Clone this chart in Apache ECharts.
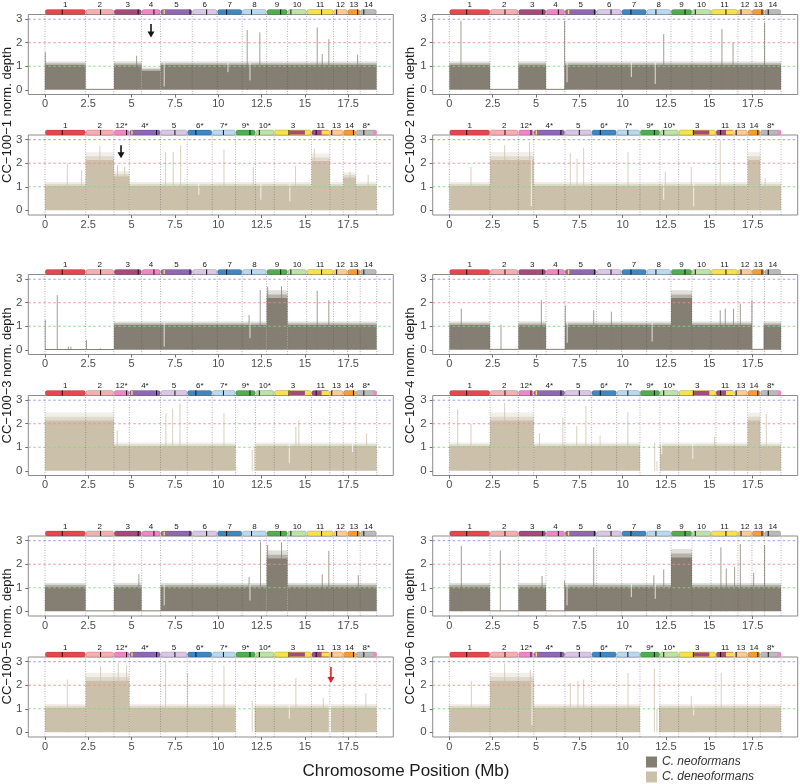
<!DOCTYPE html>
<html>
<head>
<meta charset="utf-8">
<script src="https://cdn.jsdelivr.net/npm/echarts@6/dist/echarts.min.js"></script>
<style>
  html, body { margin: 0; background: #fff; }
  #c { width: 800px; height: 784px; }
</style>
</head>
<body>
<div id="c"></div>
<script>
/* Normalized read depth along the genome, C. neoformans (H99) and
   C. deneoformans (JEC21) subgenomes, six CC-100 isolates. */

/* ---------- chromosome maps (Mb) ---------- */
const neoNames = ["1","2","3","4","5","6","7","8","9","10","11","12","13","14"];
const neoEnds = [2.35, 3.98, 5.58, 6.67, 8.5, 9.94, 11.38, 12.79, 14.0, 15.1, 16.65, 17.46, 18.19, 19.14];
const neoCen = [1.0, 3.21, 5.38, 6.29, 8.37, 9.33, 10.48, 11.92, 13.6, 14.19, 15.96, 16.83, 18.04, 18.4];
const neoCols = ["#e8464d","#f6afb1","#a54a7b","#f285c6","#8f67b5","#dac7e5","#3f87c2","#b8d9ef","#50ae4c","#bee3a6","#f7e24b","#fdcb93","#f79b36","#bababa"];
const neoBlocks = [[6.84, 6.92, "#f7e24b"]];

const denNames = ["1","2","12*","4*","5","6*","7*","9*","10*","3","11","13","14","8*"];
const denEnds = [2.35, 3.98, 4.87, 6.67, 8.21, 9.65, 11.0, 12.15, 13.23, 15.38, 16.44, 17.21, 17.94, 19.14];
const denCen = [1.0, 3.21, 4.71, 6.44, 7.5, 8.71, 10.3, 11.83, 12.37, 14.08, 15.65, 16.55, 17.8, 18.4];
const denCols = ["#e8464d","#f6afb1","#f285c6","#8f67b5","#dac7e5","#3f87c2","#b8d9ef","#50ae4c","#bee3a6","#f7e24b","#a54a7b","#fdcb93","#f79b36","#bababa"];
const denBlocks = [[4.98, 5.06, "#f7e24b"], [14.12, 15.0, "#a54a7b"], [15.96, 16.44, "#f7e24b"], [18.95, 19.14, "#f285c6"]];

/* ---------- depth: [start, end, level], spikes [x, h], dips [x, low, high] ---------- */
const cc1NeoSeg = [[0,2.35,1.05],[2.35,3.98,0.04],[3.98,5.58,1.05],[5.58,6.67,0.82],[6.67,19.14,1.05]];
const cc1NeoSpk = [[0.02,1.6],[5.29,1.45],[11.67,2.54],[12.4,2.44],[15.71,2.65],[16.0,1.52],[16.38,2.15],[18.04,1.5]];
const cc1NeoDip = [[6.88,0.14,1.0],[10.56,0.75,1.0],[11.83,0.4,1.0]];

const cc1DenSeg = [[0,2.35,1.05],[2.35,3.98,2.15],[3.98,4.87,1.45],[4.87,15.38,1.05],[15.38,16.44,2.1],[16.44,17.21,1.05],[17.21,17.94,1.4],[17.94,19.14,1.05]];
const cc1DenSpk = [[1.29,1.99],[2.12,1.71],[3.17,2.72],[4.19,1.92],[4.6,1.85],[6.96,2.48],[7.4,2.48],[7.83,2.76],[10.33,2.58],[12.02,1.85],[14.46,1.88],[15.54,2.62],[17.6,1.64],[18.65,1.5]];
const cc1DenDip = [[8.88,0.66,1.0],[12.46,0.45,1.0],[14.13,0.38,1.0]];

const cc2NeoSeg = [[0,2.35,1.05],[2.35,3.98,0.04],[3.98,5.58,1.05],[5.58,6.67,0.04],[6.67,19.14,1.05]];
const cc2NeoSpk = [[0.67,2.93],[6.65,2.93],[12.37,2.37],[15.73,2.58],[16.37,2.01],[18.19,2.86]];
const cc2NeoDip = [[6.79,0.32,1.0],[10.5,0.54,1.0],[11.88,0.25,1.0]];

const cc2DenSeg = [[0,2.35,1.05],[2.35,4.87,2.15],[4.87,17.21,1.05],[17.21,17.94,2.15],[17.94,19.14,1.05]];
const cc2DenSpk = [[1.25,1.85],[3.19,2.76],[4.63,2.9],[6.98,2.42],[7.37,2.2],[7.75,2.66],[10.31,2.48],[12.46,1.64],[13.96,1.85],[15.63,2.97],[18.23,1.36]];
const cc2DenDip = [[4.73,0.17,2.0],[12.37,0.45,1.0],[14.1,0.17,1.0]];

const cc3NeoSeg = [[0,3.98,0.03],[3.98,12.79,1.05],[12.79,14.0,2.2],[14.0,19.14,1.05]];
const cc3NeoSpk = [[0.02,1.27],[0.71,2.32],[1.35,0.14],[1.5,0.14],[2.4,0.42],[3.2,0.06],[11.78,1.48],[12.42,2.54],[12.85,2.68],[13.65,2.7],[15.71,2.51],[16.38,2.11]];
const cc3NeoDip = [[6.88,0.14,1.0],[11.83,0.49,1.0]];

const cc3DenSeg = [[0,3.98,2.15],[3.98,11.0,1.05],[11.0,12.15,0],[12.15,19.14,1.05]];
const cc3DenSpk = [[4.17,1.73],[6.98,2.44],[7.37,2.65],[7.79,2.86],[10.33,2.46],[11.96,0.89],[12.08,0.96],[14.48,1.87],[14.65,2.15],[18.56,1.59]];
const cc3DenDip = [[14.1,0.32,1.0],[17.75,0.8,1.0]];

const cc4NeoSeg = [[0,2.35,1.05],[2.35,3.98,0.04],[3.98,5.58,1.05],[5.58,6.67,0.04],[6.67,12.79,1.05],[12.79,14.0,2.2],[14.0,17.46,1.05],[17.46,18.13,0.04],[18.13,19.14,1.05]];
const cc4NeoSpk = [[0.69,1.75],[2.98,1.07],[5.31,2.1],[6.69,1.89],[8.33,1.68],[9.35,1.62],[15.63,1.68],[15.92,1.75],[16.4,1.75],[16.79,1.96],[17.46,2.1]];
const cc4NeoDip = [[6.8,0.3,1.0],[11.7,0.35,1.0]];

const cc4DenSeg = [[0,2.35,1.05],[2.35,4.87,2.15],[4.87,11.0,1.05],[11.0,12.15,0],[12.15,17.21,1.05],[17.21,17.94,2.15],[17.94,19.14,1.05]];
const cc4DenSpk = [[0.48,2.61],[1.25,1.99],[3.19,2.89],[5.2,1.6],[6.55,2.25],[7.35,1.9],[7.88,2.75],[8.7,1.5],[10.3,2.5],[11.85,1.21],[11.98,0.41],[15.3,1.45],[18.29,2.41]];
const cc4DenDip = [[12.25,0.7,1.0],[14.05,0.5,1.0]];

const cc5NeoSeg = [[0,2.35,1.05],[2.35,3.98,0.04],[3.98,5.58,1.05],[5.58,6.67,0.04],[6.67,12.79,1.05],[12.79,14.0,2.25],[14.0,19.14,1.05]];
const cc5NeoSpk = [[5.42,1.57],[11.78,1.46],[12.44,2.96],[12.85,2.82],[13.65,2.93],[16.0,1.57],[16.38,2.57],[18.08,1.53]];
const cc5NeoDip = [[6.88,0.25,1.0],[11.83,0.46,1.0]];

const cc5DenSeg = [[0,2.35,1.05],[2.35,4.87,2.2],[4.87,11.0,1.05],[11.0,12.1,0],[12.1,16.38,1.05],[16.38,16.5,0],[16.5,19.14,1.05]];
const cc5DenSpk = [[1.29,2.24],[3.21,2.82],[4.23,2.93],[4.71,2.86],[6.96,2.98],[8.23,2.52],[10.33,2.82],[11.96,1.34],[14.48,2.31],[16.06,1.45],[18.52,1.66]];
const cc5DenDip = [[14.1,0.58,1.0]];

const cc6NeoSeg = [[0,2.35,1.05],[2.35,3.98,0.04],[3.98,5.58,1.05],[5.58,6.67,0.04],[6.67,12.79,1.05],[12.79,14.0,2.3],[14.0,19.14,1.05]];
const cc6NeoSpk = [[0.69,2.78],[2.94,2.58],[5.35,1.5],[6.65,1.3],[8.33,2.72],[11.8,1.53],[12.37,1.78],[15.67,2.72],[15.98,1.82],[16.46,1.89],[16.79,2.86],[17.56,1.64],[18.19,2.82]];
const cc6NeoDip = [[6.79,0.25,1.0],[10.5,0.6,1.0],[11.88,0.53,1.0]];

const cc6DenSeg = [[0,2.35,1.05],[2.35,4.87,2.2],[4.87,11.0,1.05],[11.0,12.1,0],[12.1,19.14,1.05]];
const cc6DenSpk = [[1.27,2.17],[3.19,2.93],[4.67,2.66],[6.98,2.1],[7.42,2.17],[7.75,2.24],[10.31,2.52],[11.83,2.7],[11.98,1.0],[13.96,1.55],[15.69,2.52]];
const cc6DenDip = [[4.77,0.3,2.0],[14.1,0.72,1.0]];

/* arrows: [x, yFrom, yTo] */
const arrowCC1Neo = [[6.12, 2.8, 2.22]];
const arrowCC1Den = [[4.39, 2.76, 2.21]];
const arrowCC5Den = [[16.5, 2.78, 2.1]];

const xTicks = [0, 2.5, 5, 7.5, 10, 12.5, 15, 17.5];
const yTicks = [0, 1, 2, 3];
const refLevels = [1, 2, 3];
const refColors = ["#80d880", "#ee8c8c", "#8e8ef0"];

const yTitles = ["CC−100−1 norm. depth", "CC−100−2 norm. depth", "CC−100−3 norm. depth",
                 "CC−100−4 nrom. depth", "CC−100−5 norm. depth", "CC−100−6 norm. depth"];

const NEO = "#857e72", DEN = "#cbc1ab";
const NEO_NAME = "C. neoformans", DEN_NAME = "C. deneoformans";
const FONT = '"Liberation Sans", Arial, Helvetica, sans-serif';

const panels = [
  {col: 0, row: 0, neo: true,  seg: cc1NeoSeg, spk: cc1NeoSpk, dip: cc1NeoDip, arrow: arrowCC1Neo, arrowColor: "#151515"},
  {col: 0, row: 1, neo: false, seg: cc1DenSeg, spk: cc1DenSpk, dip: cc1DenDip, arrow: arrowCC1Den, arrowColor: "#151515"},
  {col: 1, row: 0, neo: true,  seg: cc2NeoSeg, spk: cc2NeoSpk, dip: cc2NeoDip},
  {col: 1, row: 1, neo: false, seg: cc2DenSeg, spk: cc2DenSpk, dip: cc2DenDip},
  {col: 0, row: 2, neo: true,  seg: cc3NeoSeg, spk: cc3NeoSpk, dip: cc3NeoDip},
  {col: 0, row: 3, neo: false, seg: cc3DenSeg, spk: cc3DenSpk, dip: cc3DenDip},
  {col: 1, row: 2, neo: true,  seg: cc4NeoSeg, spk: cc4NeoSpk, dip: cc4NeoDip},
  {col: 1, row: 3, neo: false, seg: cc4DenSeg, spk: cc4DenSpk, dip: cc4DenDip},
  {col: 0, row: 4, neo: true,  seg: cc5NeoSeg, spk: cc5NeoSpk, dip: cc5NeoDip},
  {col: 0, row: 5, neo: false, seg: cc5DenSeg, spk: cc5DenSpk, dip: cc5DenDip, arrow: arrowCC5Den, arrowColor: "#d7262b"},
  {col: 1, row: 4, neo: true,  seg: cc6NeoSeg, spk: cc6NeoSpk, dip: cc6NeoDip},
  {col: 1, row: 5, neo: false, seg: cc6DenSeg, spk: cc6DenSpk, dip: cc6DenDip},
];

/* ---------- layout ---------- */
const X_MIN = -0.96, X_MAX = 20.1, Y_MIN = -0.2, Y_MAX = 3.2;
const colLeft = [28.3, 432.7];
const rowTop = [14.5, 135, 274.5, 395.5, 536, 657];
const PW = 365, PH = 80;

const chromData = (names, ends, cen) =>
  names.map((n, i) => [i ? ends[i - 1] : 0, ends[i], cen[i], i]);

const grids = [], xAxes = [], yAxes = [], series = [];

panels.forEach((p, i) => {
  const fill = p.neo ? NEO : DEN;
  const names = p.neo ? neoNames : denNames;
  const ends = p.neo ? neoEnds : denEnds;
  const cols = p.neo ? neoCols : denCols;
  const blocks = p.neo ? neoBlocks : denBlocks;
  const base = {xAxisIndex: i, yAxisIndex: i, type: "custom", silent: true, animation: false};

  grids.push({left: colLeft[p.col], top: rowTop[p.row], width: PW, height: PH,
    show: true, borderColor: "#8c8c8c", borderWidth: 1, backgroundColor: "#fff"});
  xAxes.push({type: "value", gridIndex: i, min: X_MIN, max: X_MAX,
    axisLine: {show: false, onZero: false}, splitLine: {show: false},
    axisTick: {show: true, length: 3, customValues: xTicks, lineStyle: {color: "#707070"}},
    axisLabel: {customValues: xTicks, color: "#4d4d4d", fontSize: 11, fontFamily: FONT, margin: 4}});
  yAxes.push({type: "value", gridIndex: i, min: Y_MIN, max: Y_MAX,
    axisLine: {show: false, onZero: false}, splitLine: {show: false},
    axisTick: {show: true, length: 3, customValues: yTicks, lineStyle: {color: "#707070"}},
    axisLabel: {customValues: yTicks, color: "#4d4d4d", fontSize: 11.5, fontFamily: FONT, margin: 6}});

  // depth profile: solid fill to level, two soft bands above it for the noisy top
  series.push(Object.assign({}, base, {
    name: p.neo ? NEO_NAME : DEN_NAME, z: 2, itemStyle: {color: fill},
    data: p.seg, encode: {x: [0, 1], y: 2},
    renderItem: (params, api) => {
      const s = api.value(0), e = api.value(1), lv = api.value(2);
      if (lv <= 0) return null;
      const a = api.coord([s, lv]), b = api.coord([e, 0]);
      const w = b[0] - a[0];
      const kids = [{type: "rect", shape: {x: a[0], y: a[1], width: w, height: Math.max(b[1] - a[1], 1)},
        style: {fill: fill}}];
      if (lv > 0.3) {
        const t1 = api.coord([s, lv * 1.07]), t2 = api.coord([s, lv * 1.15]);
        kids.push({type: "rect", shape: {x: a[0], y: t1[1], width: w, height: a[1] - t1[1]},
          style: {fill: fill, opacity: 0.6}});
        kids.push({type: "rect", shape: {x: a[0], y: t2[1], width: w, height: t1[1] - t2[1]},
          style: {fill: fill, opacity: 0.25}});
      }
      return {type: "group", children: kids};
    }
  }));

  // spikes
  series.push(Object.assign({}, base, {
    z: 3, data: p.spk, encode: {x: 0, y: 1},
    renderItem: (params, api) => {
      const a = api.coord([api.value(0), 0]), b = api.coord([api.value(0), api.value(1)]);
      return {type: "line", shape: {x1: a[0], y1: a[1], x2: b[0], y2: b[1]},
        style: {stroke: fill, lineWidth: 0.9, opacity: 0.85}};
    }
  }));

  // dips (narrow drops in coverage)
  series.push(Object.assign({}, base, {
    z: 4, data: p.dip, encode: {x: 0, y: [1, 2]},
    renderItem: (params, api) => {
      const a = api.coord([api.value(0), api.value(1)]), b = api.coord([api.value(0), api.value(2) + 0.15]);
      return {type: "line", shape: {x1: a[0], y1: a[1], x2: b[0], y2: b[1]},
        style: {stroke: "#ffffff", lineWidth: 0.9, opacity: 0.85}};
    }
  }));

  // reference lines at 1x, 2x, 3x
  series.push(Object.assign({}, base, {
    z: 5, data: refLevels.map((v, k) => [v, k]),
    renderItem: (params, api) => {
      const cs = params.coordSys, y = api.coord([0, api.value(0)])[1];
      return {type: "line", shape: {x1: cs.x, y1: y, x2: cs.x + cs.width, y2: y},
        style: {stroke: refColors[api.value(1)], lineWidth: 0.9, lineDash: [2.5, 2.5]}};
    }
  }));

  // chromosome boundaries
  series.push(Object.assign({}, base, {
    z: 5, data: [0].concat(ends).map((v) => [v]),
    renderItem: (params, api) => {
      const a = api.coord([api.value(0), Y_MIN]), b = api.coord([api.value(0), Y_MAX]);
      return {type: "line", shape: {x1: a[0], y1: a[1], x2: b[0], y2: b[1]},
        style: {stroke: "rgba(70,70,70,0.5)", lineWidth: 0.8, lineDash: [1, 1.5]}};
    }
  }));

  // chromosome ideogram above the panel
  series.push(Object.assign({}, base, {
    z: 6, clip: false, data: chromData(names, ends, p.neo ? neoCen : denCen),
    renderItem: (params, api) => {
      const top = params.coordSys.y, idx = api.value(3);
      const a = api.coord([api.value(0), 0])[0], b = api.coord([api.value(1), 0])[0];
      const c = api.coord([api.value(2), 0])[0];
      return {type: "group", children: [
        {type: "rect", shape: {x: a + 0.3, y: top - 5, width: b - a - 0.6, height: 5, r: 2},
          style: {fill: cols[idx], stroke: "rgba(0,0,0,0.3)", lineWidth: 0.5}},
        {type: "line", shape: {x1: c, y1: top - 5, x2: c, y2: top}, style: {stroke: "#111", lineWidth: 1}},
        {type: "text", x: (a + b) / 2, y: top - 5.5,
          style: {text: names[idx], fill: "#1a1a1a", font: "8px " + FONT, align: "center", verticalAlign: "bottom"}}
      ]};
    }
  }));
  series.push(Object.assign({}, base, {
    z: 7, clip: false, data: blocks.map((d) => [d[0], d[1]]),
    renderItem: (params, api) => {
      const top = params.coordSys.y, blk = blocks[params.dataIndex];
      const a = api.coord([api.value(0), 0])[0], b = api.coord([api.value(1), 0])[0];
      return {type: "rect", shape: {x: a, y: top - 4.6, width: b - a, height: 4.2}, style: {fill: blk[2]}};
    }
  }));

  // arrows
  if (p.arrow) {
    series.push(Object.assign({}, base, {
      z: 8, data: p.arrow, encode: {x: 0, y: [1, 2]},
      renderItem: (params, api) => {
        const a = api.coord([api.value(0), api.value(1)]), b = api.coord([api.value(0), api.value(2)]);
        return {type: "group", children: [
          {type: "line", shape: {x1: a[0], y1: a[1], x2: b[0], y2: b[1] - 5},
            style: {stroke: p.arrowColor, lineWidth: 1.6}},
          {type: "polygon", shape: {points: [[b[0] - 3.5, b[1] - 6], [b[0] + 3.5, b[1] - 6], [b[0], b[1]]]},
            style: {fill: p.arrowColor}}
        ]};
      }
    }));
  }
});

/* ---------- titles ---------- */
const titleX = [7, 410];
const groupMid = [115, 375.5, 636.5];
const graphics = yTitles.map((t, k) => ({
  type: "text", x: titleX[k % 2], y: groupMid[Math.floor(k / 2)], rotation: Math.PI / 2,
  style: {text: t, fill: "#1a1a1a", font: "13px " + FONT, align: "center", verticalAlign: "middle"}
}));
graphics.push({type: "text", x: 406, y: 771,
  style: {text: "Chromosome Position (Mb)", fill: "#1a1a1a", font: "17px " + FONT, align: "center", verticalAlign: "middle"}});

const chart = echarts.init(document.getElementById("c"), null, {renderer: "canvas"});
chart.setOption({
  animation: false,
  backgroundColor: "#fff",
  grid: grids, xAxis: xAxes, yAxis: yAxes, series: series,
  graphic: graphics,
  legend: {left: 646, top: 756, orient: "vertical", padding: 0, itemWidth: 11, itemHeight: 11, itemGap: 3,
    selectedMode: false,
    textStyle: {fontStyle: "italic", fontSize: 12, color: "#333", fontFamily: FONT},
    data: [{name: NEO_NAME, icon: "rect", itemStyle: {color: NEO}},
           {name: DEN_NAME, icon: "rect", itemStyle: {color: DEN}}]}
});
</script>
</body>
</html>
